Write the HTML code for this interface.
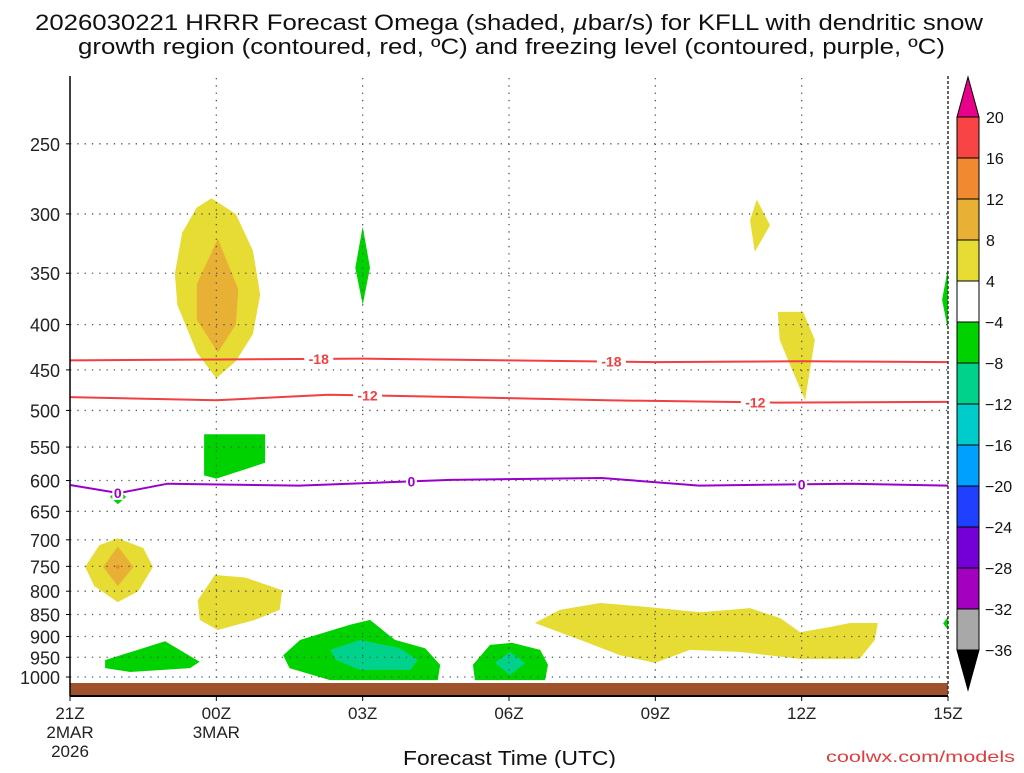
<!DOCTYPE html>
<html><head><meta charset="utf-8"><style>
body{margin:0;background:#fff;}
svg text{font-family:"Liberation Sans",sans-serif;}
</style></head><body>
<svg id="c" width="1024" height="768" xmlns="http://www.w3.org/2000/svg">
<text x="35" y="30" font-size="22" textLength="948" lengthAdjust="spacingAndGlyphs" fill="#111">2026030221 HRRR Forecast Omega (shaded, <tspan font-style="italic">µ</tspan>bar/s) for KFLL with dendritic snow</text>
<text x="78" y="54" font-size="22" textLength="867" lengthAdjust="spacingAndGlyphs" fill="#111">growth region (contoured, red, ºC) and freezing level (contoured, purple, ºC)</text>
<text x="403" y="765" font-size="20" textLength="213" lengthAdjust="spacingAndGlyphs" fill="#111">Forecast Time (UTC)</text>
<text x="826" y="762" font-size="16" textLength="189" lengthAdjust="spacingAndGlyphs" fill="#e03c3c">coolwx.com/models</text>
<g id="plot"></g>
</svg>
<script>
const pLevels=[250,300,350,400,450,500,550,600,650,700,750,800,850,900,950,1000];
const xHours=[0,3,6,9,12,15,18];
const xTicks=["21Z","00Z","03Z","06Z","09Z","12Z","15Z"];
const xSub=[["2MAR","2026"],["3MAR"],[],[],[],[],[]];
const cbLevels=[20,16,12,8,4,-4,-8,-12,-16,-20,-24,-28,-32,-36];
const cbColors=["#f84444","#f08a30","#e8b034","#e6dc34","#ffffff","#00d200","#00d28c","#00cccc","#00a0ff","#2040ff","#7400d8","#a400c0","#a8a8a8"];
const shadeYellow=[
 [[2.9,288],[3.4,300],[3.75,330],[3.9,370],[3.75,410],[3.4,440],[3.0,460],[2.6,430],[2.2,380],[2.15,350],[2.3,315],[2.6,295]],
 [[0.98,697],[1.5,715],[1.7,751],[1.4,800],[0.98,823],[0.5,790],[0.31,751],[0.6,710]],
 [[2.62,819],[2.97,767],[3.59,772],[4.35,798],[4.3,840],[3.79,862],[3.03,885],[2.66,862]],
 [[9.53,869],[10.04,840],[10.87,825],[11.89,834],[12.92,845],[13.94,836],[14.56,858],[14.97,890],[15.58,878],[15.99,869],[16.56,869],[16.5,908],[16.19,954],[14.97,954],[13.74,937],[12.71,932],[11.99,964],[11.28,945],[10.46,908]],
 [[14.51,387],[15.03,387],[15.27,416],[15.07,487],[14.76,444],[14.55,416]],
 [[14.08,289],[14.35,309],[14.04,331],[13.94,305]]
];
const shadeOrange=[
 [[3.03,320],[3.45,365],[3.4,400],[3.03,430],[2.6,395],[2.6,360]],
 [[0.98,712],[1.3,751],[0.98,790],[0.68,751]]
];
const shadeGreen=[
 [[6.0,310],[6.15,345],[6.0,380],[5.85,345]],
 [[2.75,532],[4.0,532],[4.0,573],[3.0,597],[2.75,592]],
 [[0.98,614],[1.15,626],[0.98,638],[0.82,626]],
 [[0.72,957],[1.95,911],[2.66,961],[2.46,977],[1.23,987],[0.72,977]],
 [[4.37,945],[4.72,908],[5.74,873],[6.15,862],[6.66,908],[7.28,928],[7.59,969],[7.54,1008],[5.33,1008],[4.5,977]],
 [[8.26,969],[8.61,920],[9.06,915],[9.64,932],[9.8,969],[9.74,1008],[8.3,1008]],
 [[18,345],[17.88,375],[18,406]],
 [[18,855],[17.9,870],[18,885]]
];
const shadeTeal=[
 [[5.33,932],[5.95,908],[6.77,928],[7.13,957],[6.97,982],[5.95,982],[5.46,957]],
 [[9.02,937],[9.33,964],[9.02,995],[8.71,964]]
];
const c18Hours=[0,3,6,9,12,15,18];
const c18Vals=[439,438,437,439,441,440,441];
const c12Hours=[0,3,5.3,8,11,14.5,18];
const c12Vals=[483,487,480,483,487,490,489];
const c0Hours=[0,1,2,4.7,7.8,10.9,12.9,16,18];
const c0Vals=[607,620,605,608,599,596,608,605,608];

const X0=70,X1=948,YB=677,K=384.6;
const xs=h=>X0+h*(X1-X0)/18;
const ys=p=>YB-K*Math.log(1000/p);
const NS="http://www.w3.org/2000/svg";
const g=document.getElementById('plot');
function mk(t,a,parent){const e=document.createElementNS(NS,t);for(const k in a)e.setAttribute(k,a[k]);(parent||g).appendChild(e);return e;}
const ptsStr=arr=>arr.map(q=>xs(q[0]).toFixed(1)+','+ys(q[1]).toFixed(1)).join(' ');

function shade(list,color,name){list.forEach((poly,i)=>{const e=mk('polygon',{points:ptsStr(poly),fill:color});

});}
shade(shadeYellow,'#e6dc34','omega-yellow');
shade(shadeOrange,'#e8b034','omega-orange');
shade(shadeGreen,'#00d200','omega-green');
shade(shadeTeal,'#00d28c','omega-teal');
const dot=mk('circle',{cx:xs(0.98),cy:ys(751),r:2,fill:'#f08a30'});



pLevels.forEach(p=>{const l=mk('line',{x1:X0,x2:X1,y1:ys(p),y2:ys(p),stroke:'#555','stroke-width':1.3,'stroke-dasharray':'1.3 6'});


const t=mk('text',{x:60,y:ys(p)+7,'font-size':18,'text-anchor':'end',fill:'#222'});t.textContent=p;


const tk=mk('line',{x1:X0-4,x2:X0,y1:ys(p),y2:ys(p),stroke:'#000'});

});
xHours.forEach((h,i)=>{if(i>0&&i<6){const l=mk('line',{x1:xs(h),x2:xs(h),y1:78,y2:683,stroke:'#555','stroke-width':1.3,'stroke-dasharray':'1.3 6'});

}
const t=mk('text',{x:xs(h),y:719,'font-size':17,'text-anchor':'middle',fill:'#222'});t.textContent=xTicks[i];


xSub[i].forEach((s,j)=>{const u=mk('text',{x:xs(h),y:738+j*19,'font-size':17,'text-anchor':'middle',fill:'#222'});u.textContent=s;

});
const tk=mk('line',{x1:xs(h),x2:xs(h),y1:696,y2:701,stroke:'#000'});

});

const gr=mk('rect',{x:X0,y:683,width:X1-X0,height:12,fill:'#a0522d'});



function contour(hs,vs,color,name,labels,txt){
 const d=hs.map((h,i)=>(i?'L':'M')+xs(h).toFixed(1)+','+ys(vs[i]).toFixed(1)).join(' ');
 const p=mk('path',{d:d,fill:'none',stroke:color,'stroke-width':2});
 
 
 labels.forEach(h=>{let k=0;while(k<hs.length-2&&hs[k+1]<h)k++;
  const f=(h-hs[k])/(hs[k+1]-hs[k]);const v=vs[k]+f*(vs[k+1]-vs[k]);
  const w=txt.length*9+2;
  const r=mk('rect',{x:xs(h)-w/2,y:ys(v)-7,width:w,height:14,fill:'#fff'});
  
  
  const t=mk('text',{x:xs(h),y:ys(v)+5,'font-size':14,'font-weight':'bold','text-anchor':'middle',fill:color});t.textContent=txt;
  
  });
}
contour(c18Hours,c18Vals,'#f04040','contour-minus18',[5.1,11.1],'-18');
contour(c12Hours,c12Vals,'#f04040','contour-minus12',[6.1,14.05],'-12');
contour(c0Hours,c0Vals,'#9a00cc','contour-freezing',[0.98,7.0,15.0],'0');

[[X0,'#000',''],[X1,'#333','3 2']].forEach((a,i)=>{const l=mk('line',{x1:a[0],x2:a[0],y1:76,y2:696,stroke:a[1],'stroke-width':1.5,'stroke-dasharray':a[2]});

});
const bl=mk('line',{x1:X0,x2:X1,y1:696,y2:696,stroke:'#000','stroke-width':2});



const CX=957,CW=22,CT=117,CS=41;
const tri1=mk('polygon',{points:`${CX},${CT} ${CX+CW},${CT} ${CX+CW/2},77`,fill:'#e8008a',stroke:'#000'});


cbColors.forEach((c,i)=>{const r=mk('rect',{x:CX,y:CT+i*CS,width:CW,height:CS,fill:c,stroke:'#000'});

});
const bot=CT+cbColors.length*CS;
const tri2=mk('polygon',{points:`${CX},${bot} ${CX+CW},${bot} ${CX+CW/2},${bot+40}`,fill:'#000',stroke:'#000'});


cbLevels.forEach((v,i)=>{const t=mk('text',{x:v<0?985:986,y:CT+i*CS+6,'font-size':16,fill:'#111'});t.textContent=v<0?'\u2212'+(-v):v;

});
</script>
</body></html>
